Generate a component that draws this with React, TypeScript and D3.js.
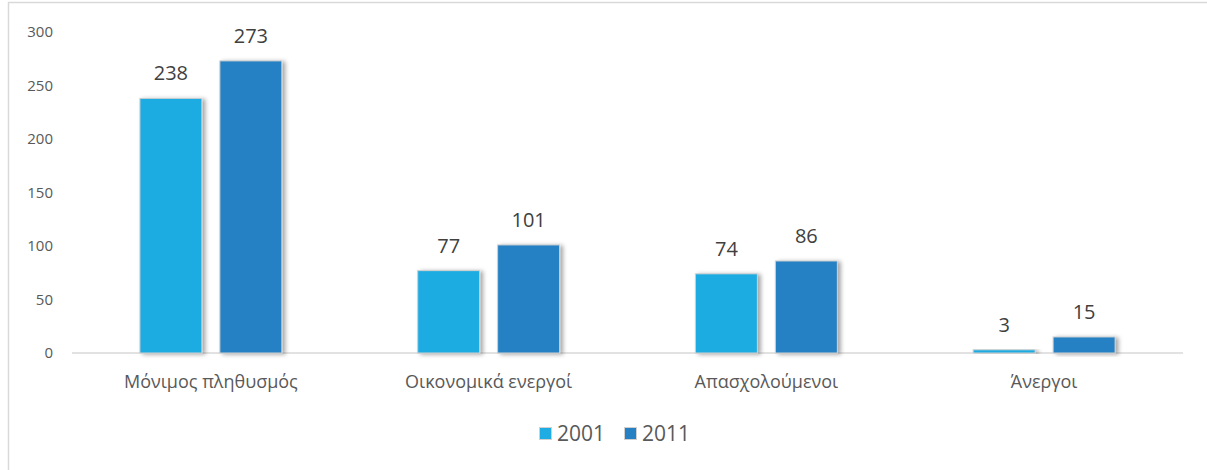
import { scaleBand, scaleLinear } from "d3";

const categories = ["Μόνιμος πληθυσμός", "Οικονομικά ενεργοί", "Απασχολούμενοι", "Άνεργοι"];
const series = ["2001", "2011"];
const values2001 = [238, 77, 74, 3];
const values2011 = [273, 101, 86, 15];
const yTicks = [0, 50, 100, 150, 200, 250, 300];

const colors = ["#1eace2", "#2581c4"];
const W = 1207;
const H = 470;
const font = "'Open Sans', Lato, sans-serif";

export default function App() {
  const x0 = scaleBand<string>()
    .domain(categories)
    .range([72, 1183])
    .paddingInner(0.489)
    .paddingOuter(0.2445);
  const x1 = scaleBand<string>()
    .domain(series)
    .range([0, x0.bandwidth()])
    .paddingInner(0.225);
  const y = scaleLinear().domain([0, 300]).range([353, 32]);
  const data = [values2001, values2011];

  return (
    <div style={{ position: "absolute", left: 0, top: 0 }}>
      <svg width={W} height={H} style={{ display: "block", background: "#fff" }}>
        <defs>
          <filter id="shadow" x="-20%" y="-20%" width="150%" height="140%">
            <feDropShadow dx="3" dy="1" stdDeviation="2" floodColor="#000" floodOpacity="0.35" />
          </filter>
        </defs>
        <rect x={8.5} y={2.5} width={1220} height={500} fill="none" stroke="#d9d9d9" strokeWidth={1.5} />

        {yTicks.map((t) => (
          <text
            key={t}
            x={53}
            y={y(t)}
            dy="0.35em"
            textAnchor="end"
            fontFamily={font}
            fontSize={15}
            fill="#595959"
          >
            {t}
          </text>
        ))}

        <line x1={72} x2={1183} y1={y(0)} y2={y(0)} stroke="#d9d9d9" strokeWidth={1.5} />

        {categories.map((c, i) => (
          <g key={c} transform={`translate(${x0(c)},0)`}>
            {series.map((s, j) => {
              const v = data[j][i];
              const bx = x1(s)!;
              return (
                <g key={s}>
                  <rect
                    x={bx}
                    y={y(v)}
                    width={x1.bandwidth()}
                    height={y(0) - y(v)}
                    fill={colors[j]}
                    stroke="#d0d0d0"
                    strokeWidth={1}
                    filter="url(#shadow)"
                  />
                  <text
                    x={bx + x1.bandwidth() / 2}
                    y={y(v) - 18}
                    textAnchor="middle"
                    fontFamily={font}
                    fontSize={20}
                    fill="#404040"
                  >
                    {v}
                  </text>
                </g>
              );
            })}
            <text
              x={x0.bandwidth() / 2}
              y={388}
              textAnchor="middle"
              fontFamily={font}
              fontSize={18}
              fill="#595959"
            >
              {c}
            </text>
          </g>
        ))}

        {series.map((s, j) => (
          <g key={s} transform={`translate(${539 + j * 85},427)`}>
            <rect x={0.5} y={0.5} width={12} height={12} fill={colors[j]} stroke="#d0d0d0" strokeWidth={1} />
            <text x={18} y={6.5} dy="0.36em" fontFamily={font} fontSize={21} fill="#595959">
              {s}
            </text>
          </g>
        ))}
      </svg>
    </div>
  );
}
